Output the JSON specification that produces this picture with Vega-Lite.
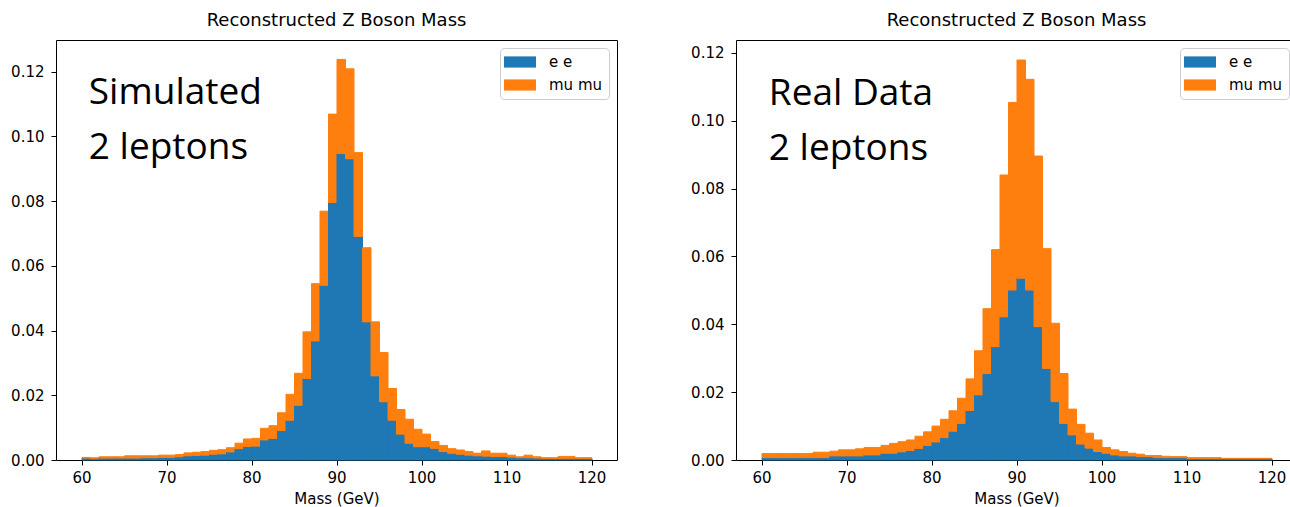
{
  "$schema": "https://vega.github.io/schema/vega-lite/v6.json",
  "padding": {"left": 10, "top": 11, "right": 5, "bottom": 5},
  "bounds": "flush",
  "spacing": 119,
  "datasets": {
    "simulated": [
      {"lo": 60, "hi": 61, "e e": 0.0006, "mu mu": 0.0002},
      {"lo": 61, "hi": 62, "e e": 0.0004, "mu mu": 0.0003},
      {"lo": 62, "hi": 63, "e e": 0.0006, "mu mu": 0.0004},
      {"lo": 63, "hi": 64, "e e": 0.0006, "mu mu": 0.0004},
      {"lo": 64, "hi": 65, "e e": 0.0006, "mu mu": 0.0004},
      {"lo": 65, "hi": 66, "e e": 0.0006, "mu mu": 0.0007},
      {"lo": 66, "hi": 67, "e e": 0.0006, "mu mu": 0.0007},
      {"lo": 67, "hi": 68, "e e": 0.0007, "mu mu": 0.0006},
      {"lo": 68, "hi": 69, "e e": 0.0007, "mu mu": 0.0006},
      {"lo": 69, "hi": 70, "e e": 0.0008, "mu mu": 0.0007},
      {"lo": 70, "hi": 71, "e e": 0.0008, "mu mu": 0.0007},
      {"lo": 71, "hi": 72, "e e": 0.0010, "mu mu": 0.0007},
      {"lo": 72, "hi": 73, "e e": 0.0013, "mu mu": 0.0009},
      {"lo": 73, "hi": 74, "e e": 0.0014, "mu mu": 0.0010},
      {"lo": 74, "hi": 75, "e e": 0.0015, "mu mu": 0.0011},
      {"lo": 75, "hi": 76, "e e": 0.0018, "mu mu": 0.0012},
      {"lo": 76, "hi": 77, "e e": 0.0019, "mu mu": 0.0013},
      {"lo": 77, "hi": 78, "e e": 0.0025, "mu mu": 0.0013},
      {"lo": 78, "hi": 79, "e e": 0.0035, "mu mu": 0.0017},
      {"lo": 79, "hi": 80, "e e": 0.0042, "mu mu": 0.0023},
      {"lo": 80, "hi": 81, "e e": 0.0043, "mu mu": 0.0024},
      {"lo": 81, "hi": 82, "e e": 0.0062, "mu mu": 0.0036},
      {"lo": 82, "hi": 83, "e e": 0.0067, "mu mu": 0.0039},
      {"lo": 83, "hi": 84, "e e": 0.0091, "mu mu": 0.0055},
      {"lo": 84, "hi": 85, "e e": 0.0123, "mu mu": 0.0080},
      {"lo": 85, "hi": 86, "e e": 0.0169, "mu mu": 0.0099},
      {"lo": 86, "hi": 87, "e e": 0.0252, "mu mu": 0.0144},
      {"lo": 87, "hi": 88, "e e": 0.0368, "mu mu": 0.0177},
      {"lo": 88, "hi": 89, "e e": 0.0540, "mu mu": 0.0229},
      {"lo": 89, "hi": 90, "e e": 0.0796, "mu mu": 0.0273},
      {"lo": 90, "hi": 91, "e e": 0.0947, "mu mu": 0.0291},
      {"lo": 91, "hi": 92, "e e": 0.0931, "mu mu": 0.0278},
      {"lo": 92, "hi": 93, "e e": 0.0691, "mu mu": 0.0259},
      {"lo": 93, "hi": 94, "e e": 0.0427, "mu mu": 0.0229},
      {"lo": 94, "hi": 95, "e e": 0.0260, "mu mu": 0.0167},
      {"lo": 95, "hi": 96, "e e": 0.0180, "mu mu": 0.0152},
      {"lo": 96, "hi": 97, "e e": 0.0123, "mu mu": 0.0098},
      {"lo": 97, "hi": 98, "e e": 0.0080, "mu mu": 0.0076},
      {"lo": 98, "hi": 99, "e e": 0.0052, "mu mu": 0.0074},
      {"lo": 99, "hi": 100, "e e": 0.0041, "mu mu": 0.0054},
      {"lo": 100, "hi": 101, "e e": 0.0041, "mu mu": 0.0039},
      {"lo": 101, "hi": 102, "e e": 0.0036, "mu mu": 0.0021},
      {"lo": 102, "hi": 103, "e e": 0.0026, "mu mu": 0.0019},
      {"lo": 103, "hi": 104, "e e": 0.0021, "mu mu": 0.0014},
      {"lo": 104, "hi": 105, "e e": 0.0018, "mu mu": 0.0013},
      {"lo": 105, "hi": 106, "e e": 0.0015, "mu mu": 0.0011},
      {"lo": 106, "hi": 107, "e e": 0.0013, "mu mu": 0.0008},
      {"lo": 107, "hi": 108, "e e": 0.0012, "mu mu": 0.0016},
      {"lo": 108, "hi": 109, "e e": 0.0011, "mu mu": 0.0010},
      {"lo": 109, "hi": 110, "e e": 0.0011, "mu mu": 0.0010},
      {"lo": 110, "hi": 111, "e e": 0.0009, "mu mu": 0.0006},
      {"lo": 111, "hi": 112, "e e": 0.0007, "mu mu": 0.0003},
      {"lo": 112, "hi": 113, "e e": 0.0007, "mu mu": 0.0008},
      {"lo": 113, "hi": 114, "e e": 0.0006, "mu mu": 0.0004},
      {"lo": 114, "hi": 115, "e e": 0.0005, "mu mu": 0.0002},
      {"lo": 115, "hi": 116, "e e": 0.0005, "mu mu": 0.0002},
      {"lo": 116, "hi": 117, "e e": 0.0005, "mu mu": 0.0006},
      {"lo": 117, "hi": 118, "e e": 0.0005, "mu mu": 0.0006},
      {"lo": 118, "hi": 119, "e e": 0.0005, "mu mu": 0.0002},
      {"lo": 119, "hi": 120, "e e": 0.0005, "mu mu": 0.0002}
    ],
    "real": [
      {"lo": 60, "hi": 61, "e e": 0.0007, "mu mu": 0.0012},
      {"lo": 61, "hi": 62, "e e": 0.0007, "mu mu": 0.0012},
      {"lo": 62, "hi": 63, "e e": 0.0007, "mu mu": 0.0012},
      {"lo": 63, "hi": 64, "e e": 0.0007, "mu mu": 0.0012},
      {"lo": 64, "hi": 65, "e e": 0.0007, "mu mu": 0.0012},
      {"lo": 65, "hi": 66, "e e": 0.0007, "mu mu": 0.0012},
      {"lo": 66, "hi": 67, "e e": 0.0007, "mu mu": 0.0016},
      {"lo": 67, "hi": 68, "e e": 0.0007, "mu mu": 0.0016},
      {"lo": 68, "hi": 69, "e e": 0.0012, "mu mu": 0.0014},
      {"lo": 69, "hi": 70, "e e": 0.0012, "mu mu": 0.0018},
      {"lo": 70, "hi": 71, "e e": 0.0012, "mu mu": 0.0018},
      {"lo": 71, "hi": 72, "e e": 0.0012, "mu mu": 0.0021},
      {"lo": 72, "hi": 73, "e e": 0.0015, "mu mu": 0.0022},
      {"lo": 73, "hi": 74, "e e": 0.0015, "mu mu": 0.0022},
      {"lo": 74, "hi": 75, "e e": 0.0020, "mu mu": 0.0023},
      {"lo": 75, "hi": 76, "e e": 0.0020, "mu mu": 0.0029},
      {"lo": 76, "hi": 77, "e e": 0.0024, "mu mu": 0.0030},
      {"lo": 77, "hi": 78, "e e": 0.0028, "mu mu": 0.0031},
      {"lo": 78, "hi": 79, "e e": 0.0034, "mu mu": 0.0036},
      {"lo": 79, "hi": 80, "e e": 0.0043, "mu mu": 0.0040},
      {"lo": 80, "hi": 81, "e e": 0.0053, "mu mu": 0.0047},
      {"lo": 81, "hi": 82, "e e": 0.0066, "mu mu": 0.0054},
      {"lo": 82, "hi": 83, "e e": 0.0085, "mu mu": 0.0060},
      {"lo": 83, "hi": 84, "e e": 0.0108, "mu mu": 0.0074},
      {"lo": 84, "hi": 85, "e e": 0.0146, "mu mu": 0.0093},
      {"lo": 85, "hi": 86, "e e": 0.0192, "mu mu": 0.0130},
      {"lo": 86, "hi": 87, "e e": 0.0255, "mu mu": 0.0191},
      {"lo": 87, "hi": 88, "e e": 0.0334, "mu mu": 0.0286},
      {"lo": 88, "hi": 89, "e e": 0.0422, "mu mu": 0.0418},
      {"lo": 89, "hi": 90, "e e": 0.0501, "mu mu": 0.0553},
      {"lo": 90, "hi": 91, "e e": 0.0536, "mu mu": 0.0643},
      {"lo": 91, "hi": 92, "e e": 0.0501, "mu mu": 0.0621},
      {"lo": 92, "hi": 93, "e e": 0.0393, "mu mu": 0.0503},
      {"lo": 93, "hi": 94, "e e": 0.0270, "mu mu": 0.0353},
      {"lo": 94, "hi": 95, "e e": 0.0172, "mu mu": 0.0231},
      {"lo": 95, "hi": 96, "e e": 0.0108, "mu mu": 0.0147},
      {"lo": 96, "hi": 97, "e e": 0.0074, "mu mu": 0.0076},
      {"lo": 97, "hi": 98, "e e": 0.0047, "mu mu": 0.0058},
      {"lo": 98, "hi": 99, "e e": 0.0035, "mu mu": 0.0044},
      {"lo": 99, "hi": 100, "e e": 0.0025, "mu mu": 0.0034},
      {"lo": 100, "hi": 101, "e e": 0.0020, "mu mu": 0.0017},
      {"lo": 101, "hi": 102, "e e": 0.0015, "mu mu": 0.0015},
      {"lo": 102, "hi": 103, "e e": 0.0012, "mu mu": 0.0013},
      {"lo": 103, "hi": 104, "e e": 0.0012, "mu mu": 0.0008},
      {"lo": 104, "hi": 105, "e e": 0.0010, "mu mu": 0.0007},
      {"lo": 105, "hi": 106, "e e": 0.0010, "mu mu": 0.0003},
      {"lo": 106, "hi": 107, "e e": 0.0007, "mu mu": 0.0006},
      {"lo": 107, "hi": 108, "e e": 0.0007, "mu mu": 0.0004},
      {"lo": 108, "hi": 109, "e e": 0.0007, "mu mu": 0.0003},
      {"lo": 109, "hi": 110, "e e": 0.0007, "mu mu": 0.0003},
      {"lo": 110, "hi": 111, "e e": 0.0004, "mu mu": 0.0003},
      {"lo": 111, "hi": 112, "e e": 0.0004, "mu mu": 0.0003},
      {"lo": 112, "hi": 113, "e e": 0.0004, "mu mu": 0.0003},
      {"lo": 113, "hi": 114, "e e": 0.0004, "mu mu": 0.0003},
      {"lo": 114, "hi": 115, "e e": 0.0004, "mu mu": 0.0001},
      {"lo": 115, "hi": 116, "e e": 0.0004, "mu mu": 0.0001},
      {"lo": 116, "hi": 117, "e e": 0.0004, "mu mu": 0.0001},
      {"lo": 117, "hi": 118, "e e": 0.0004, "mu mu": 0.0001},
      {"lo": 118, "hi": 119, "e e": 0.0004, "mu mu": 0.0001},
      {"lo": 119, "hi": 120, "e e": 0.0004, "mu mu": 0.0001}
    ]
  },
  "hconcat": [
    {
      "title": "Reconstructed Z Boson Mass",
      "width": 561,
      "height": 420,
      "layer": [
        {
          "data": {"name": "simulated"},
          "transform": [{"fold": ["e e", "mu mu"], "as": ["channel", "density"]}],
          "mark": {"type": "bar", "strokeWidth": 1},
          "encoding": {
            "x": {"field": "lo", "type": "quantitative", "bin": {"binned": true, "step": 1},
                  "scale": {"domain": [57, 123], "nice": false, "zero": false},
                  "axis": {"values": [60, 70, 80, 90, 100, 110, 120], "title": "Mass (GeV)", "format": "d"}},
            "x2": {"field": "hi"},
            "y": {"field": "density", "type": "quantitative", "stack": "zero", "scale": {"domain": [0, 0.1298], "nice": false},
                  "axis": {"values": [0, 0.02, 0.04, 0.06, 0.08, 0.1, 0.12], "format": ".2f", "title": null}},
            "color": {"field": "channel", "type": "nominal", "scale": {"domain": ["e e", "mu mu"], "range": ["#1f77b4", "#ff7f0e"]}, "title": null},
            "stroke": {"field": "channel", "type": "nominal", "scale": {"domain": ["e e", "mu mu"], "range": ["#1f77b4", "#ff7f0e"]}, "title": null},
            "order": {"field": "channel", "sort": "ascending"}
          }
        },
        {
          "data": {"values": [{"note": "Simulated\n2 leptons"}]},
          "mark": {"type": "text", "align": "left", "baseline": "alphabetic", "font": "Open Sans", "fontSize": 37, "lineHeight": 55, "lineBreak": "\n", "color": "#000"},
          "encoding": {
            "x": {"datum": 60.86, "type": "quantitative"},
            "y": {"datum": 0.1100, "type": "quantitative"},
            "text": {"field": "note"}
          }
        }
      ]
    },
    {
      "title": "Reconstructed Z Boson Mass",
      "width": 561,
      "height": 420,
      "layer": [
        {
          "data": {"name": "real"},
          "transform": [{"fold": ["e e", "mu mu"], "as": ["channel", "density"]}],
          "mark": {"type": "bar", "strokeWidth": 1},
          "encoding": {
            "x": {"field": "lo", "type": "quantitative", "bin": {"binned": true, "step": 1},
                  "scale": {"domain": [57, 123], "nice": false, "zero": false},
                  "axis": {"values": [60, 70, 80, 90, 100, 110, 120], "title": "Mass (GeV)", "format": "d"}},
            "x2": {"field": "hi"},
            "y": {"field": "density", "type": "quantitative", "stack": "zero", "scale": {"domain": [0, 0.1238], "nice": false},
                  "axis": {"values": [0, 0.02, 0.04, 0.06, 0.08, 0.1, 0.12], "format": ".2f", "title": null}},
            "color": {"field": "channel", "type": "nominal", "scale": {"domain": ["e e", "mu mu"], "range": ["#1f77b4", "#ff7f0e"]}, "title": null},
            "stroke": {"field": "channel", "type": "nominal", "scale": {"domain": ["e e", "mu mu"], "range": ["#1f77b4", "#ff7f0e"]}, "title": null},
            "order": {"field": "channel", "sort": "ascending"}
          }
        },
        {
          "data": {"values": [{"note": "Real Data\n2 leptons"}]},
          "mark": {"type": "text", "align": "left", "baseline": "alphabetic", "font": "Open Sans", "fontSize": 37, "lineHeight": 55, "lineBreak": "\n", "color": "#000"},
          "encoding": {
            "x": {"datum": 60.86, "type": "quantitative"},
            "y": {"datum": 0.1047, "type": "quantitative"},
            "text": {"field": "note"}
          }
        }
      ]
    }
  ],
  "resolve": {"scale": {"color": "independent", "stroke": "independent"}, "legend": {"color": "independent", "stroke": "independent"}},
  "config": {
    "font": "DejaVu Sans",
    "view": {"stroke": "#000000", "strokeWidth": 1},
    "bar": {"binSpacing": 0},
    "axis": {
      "domain": false,
      "grid": false,
      "ticks": true,
      "tickColor": "#000000",
      "tickSize": 5,
      "labelFont": "DejaVu Sans",
      "labelFontSize": 15,
      "labelColor": "#000000",
      "labelPadding": 5,
      "titleFont": "DejaVu Sans",
      "titleFontSize": 15,
      "titleFontWeight": "normal",
      "titleColor": "#000000",
      "titlePadding": 6
    },
    "axisY": {"labelPadding": 7},
    "title": {"font": "DejaVu Sans", "fontSize": 18, "fontWeight": "normal", "color": "#000000", "anchor": "middle", "baseline": "alphabetic", "offset": 10},
    "legend": {
      "orient": "top-right",
      "offset": 8,
      "fillColor": "rgba(255,255,255,0.8)",
      "strokeColor": "#cccccc",
      "cornerRadius": 4,
      "padding": 6,
      "labelFont": "DejaVu Sans",
      "labelFontSize": 15,
      "labelColor": "#000000",
      "labelOffset": 21,
      "symbolOffset": 6,
      "symbolType": "M-2,-0.7H2V0.7H-2Z",
      "symbolSize": 256,
      "symbolStrokeWidth": 0,
      "symbolOpacity": 1,
      "rowPadding": 7
    }
  }
}
